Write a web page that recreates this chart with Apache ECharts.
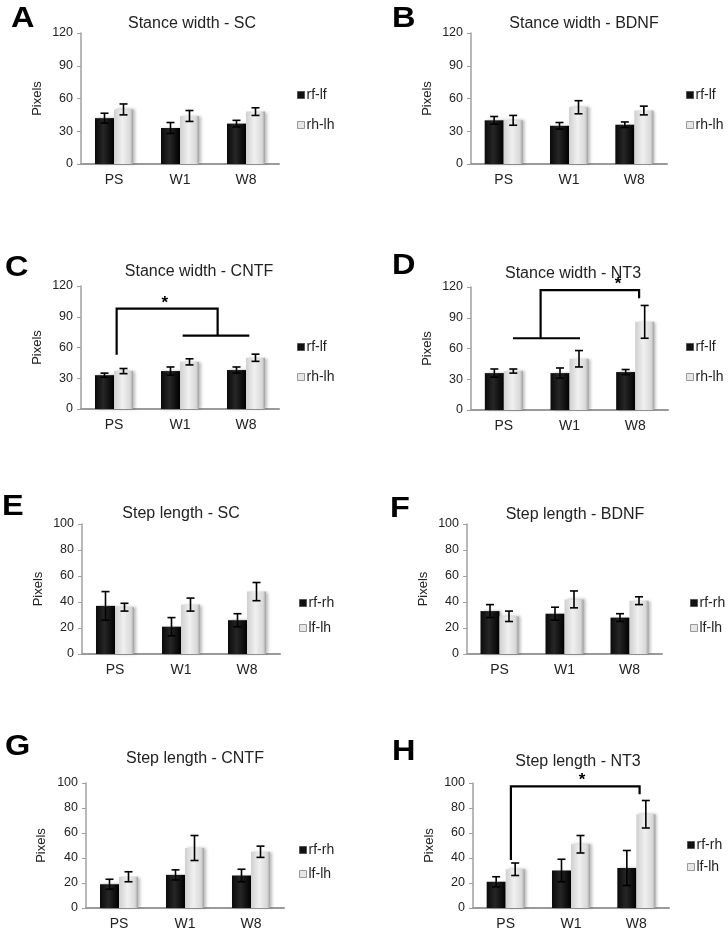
<!DOCTYPE html>
<html><head><meta charset="utf-8">
<script src="https://cdn.jsdelivr.net/npm/echarts@6/dist/echarts.min.js"></script>
<style>html,body{margin:0;padding:0;background:#fff}#c{width:728px;height:932px}</style>
</head><body><div id="c"></div>
<script>
// ---- data ----
const categories = ['PS', 'W1', 'W8'];
const stanceNames = ['rf-lf', 'rh-lh'];
const stepNames = ['rf-rh', 'lf-lh'];
const stanceTicks = {max: 120, interval: 30};
const stepTicks = {max: 100, interval: 20};

const A_rf = [42, 33, 37];   const A_rfErr = [4.5, 5, 3];
const A_rh = [50, 44, 48];   const A_rhErr = [5, 5, 3.5];
const B_rf = [40, 35, 36];   const B_rfErr = [3.5, 3, 2.5];
const B_rh = [40, 52, 49];   const B_rhErr = [4.5, 6, 4];
const C_rf = [33, 37, 38];   const C_rfErr = [2, 4, 3];
const C_rh = [37, 46, 50];   const C_rhErr = [2.5, 3, 3.5];
const D_rf = [36, 36, 37];   const D_rfErr = [4, 5, 2.5];
const D_rh = [38, 50, 86];   const D_rhErr = [2, 8, 16];
const E_rf = [37, 21, 26];   const E_rfErr = [11, 7, 5];
const E_lf = [36, 38, 48];   const E_lfErr = [3, 5, 7];
const F_rf = [33, 31, 28];   const F_rfErr = [5, 5, 3];
const F_lf = [29, 42, 41];   const F_lfErr = [4, 6.5, 3];
const G_rf = [19, 26.5, 26]; const G_rfErr = [4, 4, 5];
const G_lf = [25, 48, 45];   const G_lfErr = [4, 10, 4.5];
const H_rf = [21, 30, 32];   const H_rfErr = [4, 9, 14];
const H_lf = [31, 51, 75];   const H_lfErr = [5, 7, 11];

// significance brackets: points as [category position, value]
const C_bracket = [[[0.04, 53], [0.04, 98], [1.57, 98], [1.57, 71.5]], [[1.04, 71.5], [2.05, 71.5]]];
const C_star = [0.77, 103];
const D_bracket = [[[0.14, 70], [1.16, 70]], [[0.56, 70], [0.56, 117], [2.06, 117], [2.06, 109]]];
const D_star = [1.74, 123];
const H_bracket = [[[0.08, 38.5], [0.08, 97.3], [2.05, 97.3], [2.05, 91]]];
const H_star = [1.17, 102];

// ---- layout ----
const panels = [
  {letter: 'A', title: 'Stance width - SC',   names: stanceNames, ticks: stanceTicks, s1: A_rf, e1: A_rfErr, s2: A_rh, e2: A_rhErr,
   grid: {left: 81, top: 33, width: 198, height: 131}, lt: [11, 7], tt: [192, 16], lg: [297, 88, 16], nameGap: 37},
  {letter: 'B', title: 'Stance width - BDNF', names: stanceNames, ticks: stanceTicks, s1: B_rf, e1: B_rfErr, s2: B_rh, e2: B_rhErr,
   grid: {left: 471, top: 33, width: 196, height: 131}, lt: [392, 7], tt: [584, 16], lg: [686, 88, 16], nameGap: 37},
  {letter: 'C', title: 'Stance width - CNTF', names: stanceNames, ticks: stanceTicks, s1: C_rf, e1: C_rfErr, s2: C_rh, e2: C_rhErr,
   grid: {left: 81, top: 286, width: 198, height: 123}, lt: [5, 256], tt: [199, 264], lg: [297, 340, 16], nameGap: 37,
   bracket: C_bracket, star: C_star},
  {letter: 'D', title: 'Stance width - NT3',  names: stanceNames, ticks: stanceTicks, s1: D_rf, e1: D_rfErr, s2: D_rh, e2: D_rhErr,
   grid: {left: 471, top: 287, width: 197, height: 123}, lt: [392, 254], tt: [573, 266], lg: [686, 340, 16], nameGap: 37,
   bracket: D_bracket, star: D_star},
  {letter: 'E', title: 'Step length - SC',    names: stepNames, ticks: stepTicks, s1: E_rf, e1: E_rfErr, s2: E_lf, e2: E_lfErr,
   grid: {left: 82, top: 524, width: 198, height: 130}, lt: [2, 495], tt: [181, 506], lg: [299, 596, 11], nameGap: 37},
  {letter: 'F', title: 'Step length - BDNF',  names: stepNames, ticks: stepTicks, s1: F_rf, e1: F_rfErr, s2: F_lf, e2: F_lfErr,
   grid: {left: 467, top: 524, width: 195, height: 130}, lt: [390, 497], tt: [575, 507], lg: [690, 596, 11], nameGap: 37},
  {letter: 'G', title: 'Step length - CNTF',  names: stepNames, ticks: stepTicks, s1: G_rf, e1: G_rfErr, s2: G_lf, e2: G_lfErr,
   grid: {left: 86, top: 783, width: 198, height: 125}, lt: [5, 735], tt: [195, 751], lg: [299, 843, 10], nameGap: 38},
  {letter: 'H', title: 'Step length - NT3',   names: stepNames, ticks: stepTicks, s1: H_rf, e1: H_rfErr, s2: H_lf, e2: H_lfErr,
   grid: {left: 473, top: 783, width: 196, height: 125}, lt: [392, 740], tt: [578, 754], lg: [687, 838, 8], nameGap: 37,
   bracket: H_bracket, star: H_star}
];

const FONT = "'Liberation Sans', Arial, sans-serif";
const BAR_W = 19;
const LETTER_SIZE = 29;
const darkFill = new echarts.graphic.LinearGradient(0, 0, 1, 0, [
  {offset: 0, color: '#0a0a0a'}, {offset: 0.45, color: '#262626'}, {offset: 1, color: '#000'}]);
const lightFill = new echarts.graphic.LinearGradient(0, 0, 1, 0, [
  {offset: 0, color: '#d0d0d0'}, {offset: 0.45, color: '#f0f0f0'}, {offset: 0.85, color: '#d8d8d8'}, {offset: 1, color: '#a0a0a0'}]);

const option = {
  animation: false,
  backgroundColor: '#fff',
  textStyle: {fontFamily: FONT},
  title: [], legend: [], grid: [], xAxis: [], yAxis: [], series: [], graphic: []
};

function errRender(offset) {
  return function (params, api) {
    const cx = api.coord([api.value(0), 0])[0] + offset;
    const yHi = api.coord([api.value(0), api.value(2)])[1];
    const yLo = api.coord([api.value(0), api.value(1)])[1];
    const st = {stroke: '#000', lineWidth: 1.6};
    return {type: 'group', children: [
      {type: 'line', shape: {x1: cx, y1: yHi, x2: cx, y2: yLo}, style: st},
      {type: 'line', shape: {x1: cx - 4, y1: yHi, x2: cx + 4, y2: yHi}, style: st},
      {type: 'line', shape: {x1: cx - 4, y1: yLo, x2: cx + 4, y2: yLo}, style: st}
    ]};
  };
}

panels.forEach((p, i) => {
  option.graphic.push({type: 'text', x: p.lt[0], y: p.lt[1] - Math.round(LETTER_SIZE * 0.12), scaleX: 1.12,
    style: {text: p.letter, font: 'bold ' + LETTER_SIZE + 'px ' + FONT, fill: '#000', align: 'left', verticalAlign: 'top'}});
  option.title.push({text: p.title, left: p.tt[0], top: p.tt[1], textAlign: 'center', padding: 0,
    textStyle: {fontFamily: FONT, fontSize: 16, fontWeight: 'normal', color: '#222'}});
  option.legend.push({
    left: p.lg[0], top: p.lg[1], orient: 'vertical', itemGap: p.lg[2], padding: 0,
    itemWidth: 7, itemHeight: 7, icon: 'rect', selectedMode: false,
    textStyle: {fontFamily: FONT, fontSize: 14, color: '#222', padding: [0, 0, 0, -3]},
    data: [
      {name: p.names[0], itemStyle: {color: '#111', borderColor: '#555', borderWidth: 1}},
      {name: p.names[1], itemStyle: {color: '#e6e6e6', borderColor: '#999', borderWidth: 1}}
    ]
  });
  option.grid.push(Object.assign({containLabel: false}, p.grid));
  option.xAxis.push({
    type: 'category', gridIndex: i, data: categories,
    axisLine: {lineStyle: {color: '#9a9a9a', width: 2}},
    axisTick: {show: false},
    axisLabel: {fontFamily: FONT, fontSize: 14, color: '#222', margin: 9}
  });
  option.yAxis.push({
    type: 'value', gridIndex: i, min: 0, max: p.ticks.max, interval: p.ticks.interval,
    name: 'Pixels', nameLocation: 'middle', nameGap: p.nameGap,
    nameTextStyle: {fontFamily: FONT, fontSize: 13, color: '#222'},
    axisLine: {show: true, lineStyle: {color: '#a0a0a0', width: 1.5}},
    axisTick: {show: true, length: 4, lineStyle: {color: '#a0a0a0'}},
    splitLine: {show: false},
    axisLabel: {fontFamily: FONT, fontSize: 12.5, color: '#222', margin: 8}
  });
  const shadow = {shadowColor: 'rgba(0,0,0,0.28)', shadowBlur: 3, shadowOffsetX: 2, shadowOffsetY: 0};
  option.series.push({
    type: 'bar', name: p.names[0], xAxisIndex: i, yAxisIndex: i, data: p.s1,
    barWidth: BAR_W, barGap: '0%', itemStyle: Object.assign({color: darkFill}, shadow), z: 2
  });
  option.series.push({
    type: 'bar', name: p.names[1], xAxisIndex: i, yAxisIndex: i, data: p.s2,
    barWidth: BAR_W, barGap: '0%', itemStyle: Object.assign({color: lightFill}, shadow), z: 2
  });
  option.series.push({
    type: 'custom', xAxisIndex: i, yAxisIndex: i, z: 5, silent: true,
    renderItem: errRender(-BAR_W / 2),
    data: p.s1.map((v, k) => [k, v - p.e1[k], v + p.e1[k]])
  });
  option.series.push({
    type: 'custom', xAxisIndex: i, yAxisIndex: i, z: 5, silent: true,
    renderItem: errRender(BAR_W / 2),
    data: p.s2.map((v, k) => [k, v - p.e2[k], v + p.e2[k]])
  });
  if (p.bracket) {
    const lines = p.bracket, star = p.star;
    option.series.push({
      type: 'custom', xAxisIndex: i, yAxisIndex: i, z: 6, silent: true, clip: false,
      renderItem: function (params, api) {
        const band = api.size([1, 0])[0];
        const x0 = api.coord([0, 0])[0];
        const toPt = (q) => [x0 + q[0] * band, api.coord([0, q[1]])[1]];
        const children = lines.map(pl => ({
          type: 'polyline', shape: {points: pl.map(toPt)},
          style: {stroke: '#000', lineWidth: 2.2, fill: null}
        }));
        const sp = toPt(star);
        children.push({type: 'text', x: sp[0], y: sp[1],
          style: {text: '*', fontFamily: FONT, fontSize: 17, fontWeight: 'bold', fill: '#000',
                  align: 'center', verticalAlign: 'middle'}});
        return {type: 'group', children: children};
      },
      data: [[0]]
    });
  }
});

const chart = echarts.init(document.getElementById('c'), null, {renderer: 'canvas'});
chart.setOption(option);
</script>
</body></html>
